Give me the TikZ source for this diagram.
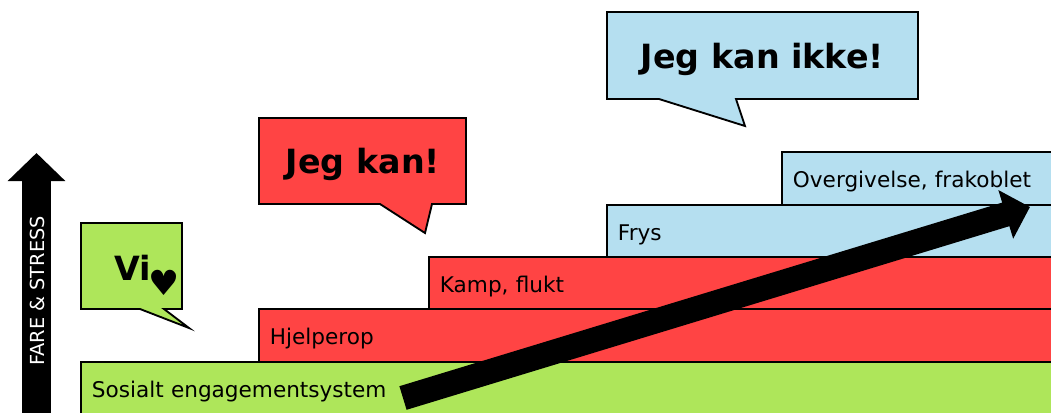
\documentclass[tikz,border=0pt]{standalone}
\usepackage{fontspec}
\setmainfont{DejaVu Sans}
\usetikzlibrary{arrows.meta, positioning}
\definecolor{calmgreen}{HTML}{AEE65A}
\definecolor{fightred}{HTML}{FF4444}
\definecolor{freezeblue}{HTML}{B5DFF0}
\begin{document}
\begin{tikzpicture}[
                x=0.75pt, y=-0.75pt,
                stepbox/.style={draw, line width=1.4pt, outer sep=0pt, anchor=north west, minimum width=1100*0.75pt, minimum height=53*0.75pt, text width=1080*0.75pt, text height=14pt, text depth=1.2pt, align=left, inner xsep=8.2pt, font=\fontsize{16.2pt}{18pt}\selectfont},
                bubble/.style={draw, line width=1.4pt, line join=miter},
                shout/.style={font=\bfseries\fontsize{25pt}{28pt}\selectfont}
            ]
                \useasboundingbox (0,0) rectangle (1051,412);
                \clip (0,0) rectangle (1051,412);

                % Steps
                \node[stepbox, fill=freezeblue] (give) at (782,152) {Overgivelse, frakoblet};
                \node[stepbox, fill=freezeblue] (frys) at (607,205) {Frys};
                \node[stepbox, fill=fightred] (kamp) at (429,257) {Kamp, flukt};
                \node[stepbox, fill=fightred] (hjelp) at (259,309) {Hjelperop};
                \node[stepbox, fill=calmgreen] (sosial) at (81,362) {Sosialt engagementsystem};

                % Bubbles
                \draw[bubble, fill=calmgreen] (81,223) -- (182,223) -- (182,309) -- (164,309) -- (189,328) -- (140,309) -- (81,309) -- cycle;
                \draw[bubble, fill=fightred] (259,118) -- (466,118) -- (466,204) -- (432,204) -- (425,233) -- (380,204) -- (259,204) -- cycle;
                \draw[bubble, fill=freezeblue] (607,12) -- (918,12) -- (918,99) -- (736,99) -- (745,126) -- (659,99) -- (607,99) -- cycle;

                \node[shout] (vi) at (133,268) {Vi};
                \node[font=\fontsize{26pt}{28pt}\selectfont] (heart) at (164,283) {♥};
                \node[shout] (kan) at (363,164) {Jeg kan!};
                \node[shout] (ikke) at (762.5,59) {Jeg kan ikke!};

                % Arrows
                \coordinate (scaleFoot) at (36.5,430);
                \coordinate (scaleTop) at (36.5,153);
                \draw[line width=21.5pt, -{Triangle[length=21pt, width=42pt]}] (scaleFoot) -- (scaleTop);
                \node[rotate=90, text=white, font=\fontsize{14.5pt}{16pt}\selectfont] (fare) at (37.5,291) {FARE \& STRESS};

                \coordinate (riseFoot) at (403,398);
                \coordinate (riseTop) at (1030,207);
                \draw[line width=18.5pt, -{Triangle[length=19pt, width=37pt]}] (riseFoot) -- (riseTop);
            \end{tikzpicture}
\end{document}
